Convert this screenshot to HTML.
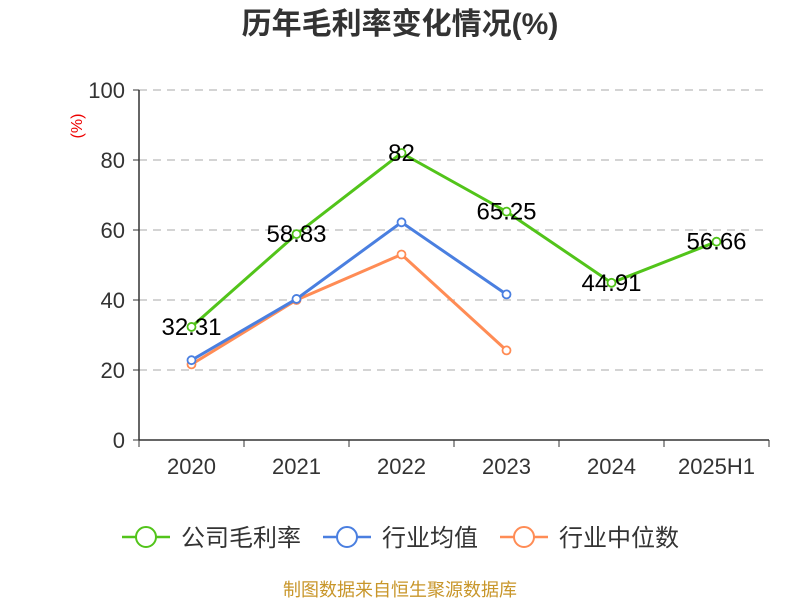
<!DOCTYPE html>
<html><head><meta charset="utf-8"><style>
body{margin:0;background:#fff;}
svg text{font-family:"Liberation Sans","Noto Sans CJK SC",sans-serif;}
</style></head><body>
<svg width="800" height="600" id="c">
<text x="400" y="34" text-anchor="middle" font-size="30" font-weight="bold" fill="#333">历年毛利率变化情况(%)</text>
<text x="78" y="126" font-size="16" fill="#e00" transform="rotate(-90 78 126)" text-anchor="middle" dominant-baseline="middle">(%)</text>
<g id="grid"></g><g id="axes"></g><g id="series"></g><g id="labels"></g>
<g>
<g><line x1="122" y1="537" x2="170" y2="537" stroke="#52c41a" stroke-width="2.5"/><circle cx="146" cy="537" r="10" fill="#fff" stroke="#52c41a" stroke-width="2"/><text x="181" y="546" font-size="24" fill="#333">公司毛利率</text></g>
<g><line x1="323" y1="537" x2="371" y2="537" stroke="#4a7fe0" stroke-width="2.5"/><circle cx="347" cy="537" r="10" fill="#fff" stroke="#4a7fe0" stroke-width="2"/><text x="382" y="546" font-size="24" fill="#333">行业均值</text></g>
<g><line x1="500" y1="537" x2="548" y2="537" stroke="#ff8c55" stroke-width="2.5"/><circle cx="524" cy="537" r="10" fill="#fff" stroke="#ff8c55" stroke-width="2"/><text x="559" y="546" font-size="24" fill="#333">行业中位数</text></g>
</g>
<text x="400" y="596" text-anchor="middle" font-size="18" fill="#c8962a">制图数据来自恒生聚源数据库</text>
</svg>
<script>
const categories=["2020","2021","2022","2023","2024","2025H1"];
const yTicks=[0,20,40,60,80,100];
const company=[32.31,58.83,82,65.25,44.91,56.66];
const companyLabels=["32.31","58.83","82","65.25","44.91","56.66"];
const industryAvg=[22.8,40.3,62.2,41.6,null,null];
const industryMedian=[21.6,40,53,25.6,null,null];
const NS="http://www.w3.org/2000/svg";
const L=139,R=769,T=90,B=440;
const bw=(R-L)/categories.length;
const xs=i=>L+bw*(i+0.5);
const ys=v=>B-(v/100)*(B-T);
function mk(t,a,p){const e=document.createElementNS(NS,t);for(const k in a)e.setAttribute(k,a[k]);p.appendChild(e);return e;}
const grid=document.getElementById('grid'),axes=document.getElementById('axes');
yTicks.forEach(v=>{
 if(v>0){const g=mk('line',{x1:L,x2:R,y1:ys(v),y2:ys(v),stroke:'#bbb','stroke-dasharray':'8,6','stroke-width':1.3},grid);
 
 }
 const tk=mk('line',{x1:L-6,x2:L,y1:ys(v),y2:ys(v),stroke:'#333'},axes);
 
 
 const t=mk('text',{x:L-14,y:ys(v)+8,'text-anchor':'end','font-size':22,fill:'#333'},axes);t.textContent=v;
 
 
});
const ya=mk('line',{x1:L,x2:L,y1:T,y2:B,stroke:'#333','stroke-width':1.5},axes);


const xa=mk('line',{x1:L,x2:R,y1:B,y2:B,stroke:'#333','stroke-width':1.5},axes);


for(let i=0;i<=categories.length;i++){const tk=mk('line',{x1:L+bw*i,x2:L+bw*i,y1:B,y2:B+7,stroke:'#333'},axes);
 
 }
categories.forEach((c,i)=>{const t=mk('text',{x:xs(i),y:B+34,'text-anchor':'middle','font-size':22,fill:'#333'},axes);t.textContent=c;
 
 });
const sg=document.getElementById('series');
function draw(data,color,name){
 const pts=data.map((v,i)=>v==null?null:[xs(i),ys(v)]).filter(p=>p);
 const pl=mk('polyline',{points:pts.map(p=>p.join(',')).join(' '),fill:'none',stroke:color,'stroke-width':3},sg);
 
 
 pts.forEach(p=>{const c=mk('circle',{cx:p[0],cy:p[1],r:4,fill:'#fff',stroke:color,'stroke-width':1.8},sg);
 
 });
}
draw(industryMedian,'#ff8c55','industry-median');
draw(industryAvg,'#4a7fe0','industry-avg');
draw(company,'#52c41a','gross-margin');
const lg=document.getElementById('labels');
company.forEach((v,i)=>{const t=mk('text',{x:xs(i),y:ys(v)+8,'text-anchor':'middle','font-size':24,fill:'#000'},lg);t.textContent=companyLabels[i];
 
 });
</script>
</body></html>
